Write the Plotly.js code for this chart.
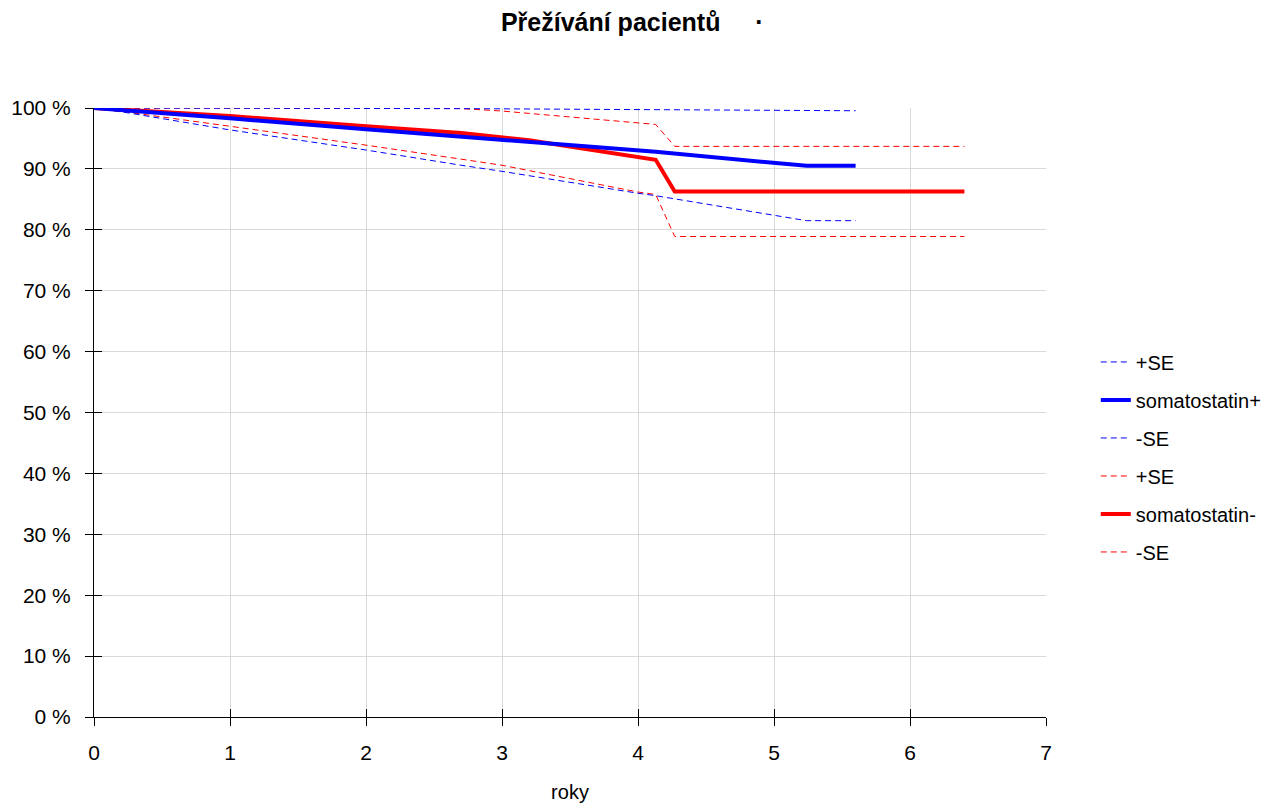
<!DOCTYPE html>
<html>
<head>
<meta charset="utf-8">
<script src="https://cdn.plot.ly/plotly-3.0.1.min.js"></script>
<style>html,body{margin:0;padding:0;background:#fff;}#chart{width:1272px;height:803px;}</style>
</head>
<body>
<div id="chart"></div>
<script>
// Blue: somatostatin+
const bluePlusSE_t = [0, 0.25, 1, 2, 2.7, 3.5, 4.13, 5.24, 5.6];
const bluePlusSE_v = [100, 100, 100, 99.95, 99.9, 99.8, 99.7, 99.55, 99.55];
const blueMain_t = [0, 0.25, 1, 2, 2.7, 3.2, 4.0, 4.13, 5.24, 5.6];
const blueMain_v = [100, 99.6, 98.3, 96.5, 95.3, 94.4, 93.0, 92.8, 90.5, 90.5];
const blueMinusSE_t = [0, 0.25, 1, 2, 2.7, 3.0, 4.0, 4.13, 5.24, 5.6];
const blueMinusSE_v = [100, 99.2, 96.4, 93.1, 90.6, 89.6, 86.0, 85.6, 81.5, 81.5];
// Red: somatostatin-
const redPlusSE_t = [0, 0.25, 1, 2, 2.7, 3.0, 4.0, 4.13, 4.27, 6.4];
const redPlusSE_v = [100, 100, 100, 100, 99.9, 99.5, 97.5, 97.3, 93.7, 93.7];
const redMain_t = [0, 0.25, 1, 2, 2.7, 3.2, 4.0, 4.13, 4.27, 6.4];
const redMain_v = [100, 99.7, 98.7, 97.0, 95.9, 94.7, 92.0, 91.5, 86.3, 86.3];
const redMinusSE_t = [0, 0.25, 1, 2, 2.7, 3.0, 4.0, 4.13, 4.27, 6.4];
const redMinusSE_v = [100, 99.3, 97.0, 93.9, 91.6, 90.6, 86.2, 85.8, 78.9, 78.9];

const names = ['+SE', 'somatostatin+', '-SE', '+SE', 'somatostatin-', '-SE'];
const BLUE = '#0000ff', RED = '#ff0000';
const dashStyle = '6px,4px';

function tr(t, v, name, color, width, dash, rank) {
  return {
    x: t, y: v, name: name, type: 'scatter', mode: 'lines',
    line: {color: color, width: width, dash: dash},
    legendrank: rank, legendgroup: 'g' + rank,
    hoverinfo: 'x+y+name'
  };
}

const data = [
  tr(redPlusSE_t, redPlusSE_v, names[3], RED, 1, dashStyle, 4),
  tr(redMinusSE_t, redMinusSE_v, names[5], RED, 1, dashStyle, 6),
  tr(bluePlusSE_t, bluePlusSE_v, names[0], BLUE, 1, dashStyle, 1),
  tr(blueMinusSE_t, blueMinusSE_v, names[2], BLUE, 1, dashStyle, 3),
  tr(redMain_t, redMain_v, names[4], RED, 4, 'solid', 5),
  tr(blueMain_t, blueMain_v, names[1], BLUE, 4, 'solid', 2),
  // invisible helper trace for inside tick marks
  {x: [0], y: [0], xaxis: 'x2', yaxis: 'y2', mode: 'markers', marker: {opacity: 0}, showlegend: false, hoverinfo: 'skip'}
];

const FONT = 'Liberation Sans, Arial, sans-serif';
const layout = {
  width: 1272, height: 803,
  paper_bgcolor: '#fff', plot_bgcolor: '#fff',
  margin: {l: 94, r: 226, t: 108, b: 86, pad: 0, autoexpand: false},
  font: {family: FONT, size: 20, color: '#000'},
  title: {text: '<b>Přežívání pacientů&nbsp;&nbsp;&nbsp;&nbsp;&nbsp;·</b>', x: 0.497, xref: 'container', y: 1 - 22/803, yref: 'container', yanchor: 'middle', xanchor: 'center', font: {family: FONT, size: 25, color: '#000'}},
  xaxis: {
    range: [0, 7], dtick: 1, tick0: 0, showgrid: true, gridcolor: '#d9d9d9', gridwidth: 1,
    zeroline: false, showline: true, linecolor: '#000', linewidth: 1,
    ticks: 'outside', ticklen: 8, tickcolor: '#000', tickwidth: 1,
    tickfont: {family: FONT, size: 21},
    ticklabelstandoff: 9,
    title: {text: 'roky', standoff: 22, font: {family: FONT, size: 20}},
    automargin: false, fixedrange: true
  },
  yaxis: {
    range: [0, 100], dtick: 10, tick0: 0, ticksuffix: ' %', showgrid: true, gridcolor: '#d9d9d9', gridwidth: 1,
    zeroline: false, showline: true, linecolor: '#000', linewidth: 1,
    ticks: 'outside', ticklen: 8, tickcolor: '#000', tickwidth: 1,
    tickfont: {family: FONT, size: 21},
    ticklabelstandoff: 10,
    automargin: false, fixedrange: true
  },
  xaxis2: {overlaying: 'x', anchor: 'y2', range: [0, 7], dtick: 1, tick0: 0, showgrid: false, zeroline: false, showline: false,
    ticks: 'inside', ticklen: 8, tickcolor: '#000', tickwidth: 1, showticklabels: false, side: 'bottom', fixedrange: true},
  yaxis2: {overlaying: 'y', anchor: 'x2', range: [0, 100], dtick: 10, tick0: 0, showgrid: false, zeroline: false, showline: false,
    ticks: 'inside', ticklen: 8, tickcolor: '#000', tickwidth: 1, showticklabels: false, side: 'left', fixedrange: true},
  showlegend: true,
  legend: {
    x: 1.0523, xanchor: 'left', y: 0.427, yanchor: 'middle',
    font: {family: FONT, size: 20, color: '#000'},
    traceorder: 'grouped', tracegroupgap: 9, itemwidth: 30,
    bgcolor: 'rgba(0,0,0,0)', borderwidth: 0
  },
  hovermode: 'closest'
};

Plotly.newPlot('chart', data, layout, {displayModeBar: false, staticPlot: false});
</script>
</body>
</html>
